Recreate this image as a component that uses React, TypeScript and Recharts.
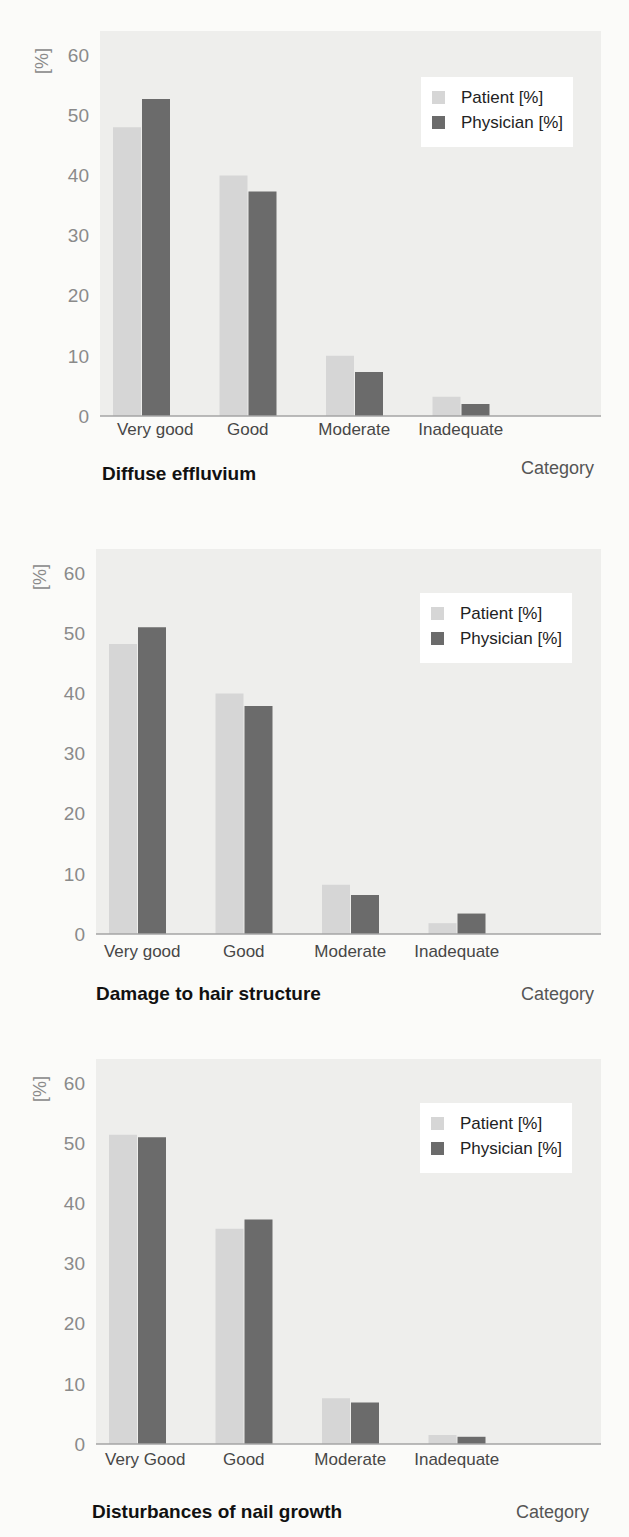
import React from "react";
import { BarChart, Bar, XAxis, YAxis, CartesianGrid, Legend } from "recharts";

// ratings (x categories)
const ratingsA = ["Very good", "Good", "Moderate", "Inadequate"];
const ratingsB = ["Very Good", "Good", "Moderate", "Inadequate"];

// values in %
const effluviumPatient = [48, 40, 10, 3.2];
const effluviumPhysician = [52.7, 37.3, 7.3, 2];
const hairPatient = [48.2, 40, 8.2, 1.8];
const hairPhysician = [51, 37.9, 6.5, 3.4];
const nailPatient = [51.4, 35.8, 7.6, 1.5];
const nailPhysician = [51, 37.3, 6.9, 1.2];

const yTicks = [0, 10, 20, 30, 40, 50, 60];

const FONT = '"Liberation Sans", Arial, Helvetica, sans-serif';

interface PanelProps {
  title: string;
  cats: string[];
  patient: number[];
  physician: number[];
  plotTop: number;
  plotLeft: number;
  firstShift: number;
  tickGap: number;
  legendTop: number;
  legendLeft: number;
  titleTop: number;
  titleLeft: number;
  catTop: number;
  catRight: number;
  pctX: number;
  pctY: number;
}

const LegendBox = (props: any) => {
  const { payload } = props;
  return (
    <div style={{ width: 152, height: 70, background: "#ffffff", position: "relative" }}>
      {(payload || []).map((p: any, i: number) => (
        <div
          key={p.value}
          style={{
            position: "absolute",
            left: 11,
            top: 13 + i * 25,
            height: 14,
            display: "flex",
            alignItems: "center",
            whiteSpace: "nowrap",
          }}
        >
          <span style={{ width: 13, height: 13, background: p.color, display: "inline-block" }} />
          <span style={{ marginLeft: 16, fontSize: 17, color: "#222", lineHeight: 1 }}>{p.value}</span>
        </div>
      ))}
    </div>
  );
};

function Panel(p: PanelProps) {
  const data = p.cats.map((c, i) => ({ cat: c, patient: p.patient[i], physician: p.physician[i] }));
  const chartTop = p.plotTop - 10;

  const Tick = (t: any) => (
    <text
      x={t.x + (t.index === 0 ? p.firstShift : 0)}
      y={t.y}
      dy="0.71em"
      textAnchor="middle"
      fill="#474747"
      fontSize={17}
    >
      {t.payload.value}
    </text>
  );

  return (
    <>
      <div style={{ position: "absolute", left: 0, top: chartTop }}>
        <BarChart
          width={629}
          height={425}
          data={data}
          margin={{ top: 10, right: 28, left: 0, bottom: 0 }}
          barSize={28}
          barGap={1}
        >
          <CartesianGrid horizontal={false} vertical={false} fill="#eeeeec" stroke="none" />
          <XAxis
            dataKey="cat"
            height={30}
            interval={0}
            padding={{ left: -12, right: 187 - p.plotLeft }}
            axisLine={{ stroke: "#a5a5a5", strokeWidth: 1.5 }}
            tickLine={false}
            tickSize={0}
            tickMargin={p.tickGap}
            tick={<Tick />}
          />
          <YAxis
            width={p.plotLeft}
            domain={[0, 64]}
            ticks={yTicks}
            axisLine={false}
            tickLine={false}
            tickSize={0}
            tickMargin={11}
            tick={{ fill: "#8a8a8a", fontSize: 19 }}
          />
          <Legend
            layout="vertical"
            align="center"
            verticalAlign="middle"
            width={152}
            height={70}
            wrapperStyle={{ left: p.legendLeft, top: p.legendTop - chartTop, width: 152, height: 70 }}
            content={<LegendBox />}
          />
          <Bar dataKey="patient" name="Patient [%]" fill="#d6d6d6" isAnimationActive={false} />
          <Bar dataKey="physician" name="Physician [%]" fill="#6b6b6b" isAnimationActive={false} />
        </BarChart>
      </div>
      <div
        style={{
          position: "absolute",
          left: p.pctX,
          top: p.pctY,
          transform: "translate(-50%, -50%) rotate(-90deg)",
          fontSize: 18,
          lineHeight: 1,
          color: "#8a8a8a",
          whiteSpace: "nowrap",
        }}
      >
        [%]
      </div>
      <div
        style={{
          position: "absolute",
          left: p.titleLeft,
          top: p.titleTop,
          fontSize: 19,
          fontWeight: "bold",
          lineHeight: 1,
          color: "#111",
          whiteSpace: "nowrap",
        }}
      >
        {p.title}
      </div>
      <div
        style={{
          position: "absolute",
          right: 629 - p.catRight,
          top: p.catTop,
          fontSize: 18,
          lineHeight: 1,
          color: "#555",
          whiteSpace: "nowrap",
        }}
      >
        Category
      </div>
    </>
  );
}

export default function App() {
  return (
    <div
      style={{
        position: "absolute",
        left: 0,
        top: 0,
        width: 629,
        height: 1537,
        background: "#fbfbf9",
        fontFamily: FONT,
        overflow: "hidden",
      }}
    >
      <Panel
        title="Diffuse effluvium"
        cats={ratingsA}
        patient={effluviumPatient}
        physician={effluviumPhysician}
        plotTop={31}
        plotLeft={100}
        firstShift={14}
        tickGap={7}
        legendTop={77}
        legendLeft={421}
        titleTop={464}
        titleLeft={102}
        catTop={459}
        catRight={594}
        pctX={42}
        pctY={61}
      />
      <Panel
        title="Damage to hair structure"
        cats={ratingsA}
        patient={hairPatient}
        physician={hairPhysician}
        plotTop={549}
        plotLeft={96}
        firstShift={5}
        tickGap={11}
        legendTop={593}
        legendLeft={420}
        titleTop={984}
        titleLeft={96}
        catTop={985}
        catRight={594}
        pctX={40}
        pctY={577}
      />
      <Panel
        title="Disturbances of nail growth"
        cats={ratingsB}
        patient={nailPatient}
        physician={nailPhysician}
        plotTop={1059}
        plotLeft={96}
        firstShift={8}
        tickGap={9}
        legendTop={1103}
        legendLeft={420}
        titleTop={1502}
        titleLeft={92}
        catTop={1503}
        catRight={589}
        pctX={40}
        pctY={1089}
      />
    </div>
  );
}
